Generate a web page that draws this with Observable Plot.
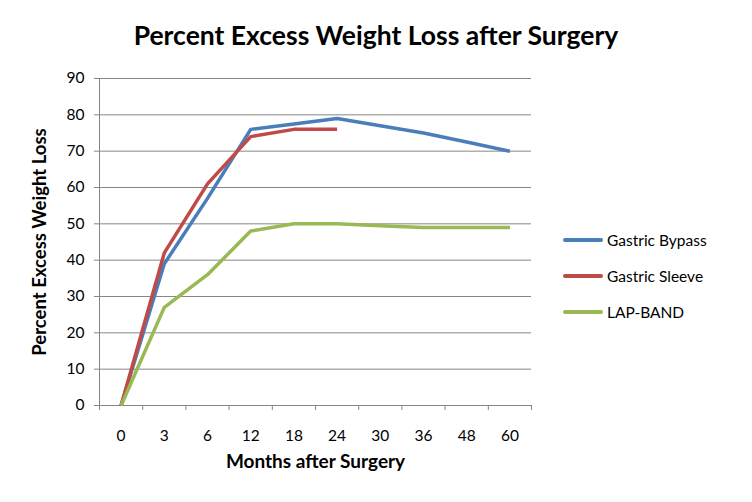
<!DOCTYPE html>
<html>
<head>
<meta charset="utf-8">
<script src="https://cdn.jsdelivr.net/npm/d3@7"></script>
<script src="https://cdn.jsdelivr.net/npm/@observablehq/plot@0.6"></script>
<style>
  body { margin: 0; background: #fff; }
  #wrap { position: relative; width: 752px; height: 502px; font-family: Lato, "Open Sans", sans-serif; }
  #title { position: absolute; left: 0; top: 19px; width: 752px; text-align: center; font-size: 26.5px; font-weight: bold; color: #000; }
  #legend { position: absolute; left: 563px; top: 222px; font-size: 15.5px; color: #000; }
  .row { display: flex; align-items: center; height: 36px; }
  .sw { width: 40px; height: 4px; margin-right: 4px; border-radius: 2px; }
  #chart { position: absolute; left: 0; top: 0; }
</style>
</head>
<body>
<div id="wrap">
  <div id="chart"></div>
  <div id="title">Percent Excess Weight Loss after Surgery</div>
  <div id="legend"></div>
</div>
<script>
const months = ["0", "3", "6", "12", "18", "24", "30", "36", "48", "60"];
const seriesNames = ["Gastric Bypass", "Gastric Sleeve", "LAP-BAND"];
const seriesColors = ["#4a7ebb", "#be4b48", "#98b954"];
const bypass = [0, 39, 57, 76, 77.5, 79, 77, 75, 72.5, 70];
const sleeve = [0, 42, 61, 74, 76, 76, null, null, null, null];
const lapband = [0, 27, 36, 48, 50, 50, 49.5, 49, 49, 49];
const yTicks = [0, 10, 20, 30, 40, 50, 60, 70, 80, 90];

const values = [bypass, sleeve, lapband];
const data = [];
values.forEach((arr, s) => arr.forEach((v, i) => {
  if (v != null) data.push({series: seriesNames[s], i, month: months[i], value: v});
}));
const idx = months.map((m, i) => i);
const bounds = [...idx.map(i => i - 0.5), months.length - 0.5];

const gray = "#868686";
const chart = Plot.plot({
  width: 752,
  height: 502,
  marginLeft: 99,
  marginRight: 221,
  marginTop: 78,
  marginBottom: 97,
  style: {fontFamily: "Lato, 'Open Sans', sans-serif", fontSize: "15px", color: "#000", background: "#fff"},
  x: {type: "linear", domain: [-0.5, months.length - 0.5]},
  y: {domain: [0, 90]},
  color: {domain: seriesNames, range: seriesColors},
  marks: [
    Plot.gridY(yTicks, {stroke: gray, strokeOpacity: 1, strokeWidth: 1}),
    Plot.ruleX([-0.5], {stroke: gray}),
    Plot.axisY(yTicks, {tickSize: 5, tickPadding: 10, stroke: gray, label: null, fill: "#000", fontSize: 15.5}),
    Plot.axisX(bounds, {tickSize: 5, tickFormat: () => "", stroke: gray, label: null}),
    Plot.ruleY([0], {stroke: gray}),
    Plot.axisX(idx, {tickSize: 0, tickPadding: 24, tickFormat: i => months[i], label: null, fill: "#000", fontSize: 15.5}),
    Plot.lineY(data, {x: "i", y: "value", z: "series", stroke: "series", strokeWidth: 3.5, strokeLinejoin: "round", strokeLinecap: "butt"}),
    Plot.text(["Percent Excess Weight Loss"], {frameAnchor: "left", textAnchor: "middle", dx: -59, rotate: -90, fontWeight: "bold", fontSize: 18.5, fill: "#000"}),
    Plot.text(["Months after Surgery"], {frameAnchor: "bottom", textAnchor: "middle", dy: 62, fontWeight: "bold", fontSize: 19, fill: "#000"})
  ]
});
document.getElementById("chart").appendChild(chart);

const legend = document.getElementById("legend");
seriesNames.forEach((n, k) => {
  const r = document.createElement("div");
  r.className = "row";
  r.innerHTML = `<div class="sw" style="background:${seriesColors[k]}"></div><span>${n}</span>`;
  legend.appendChild(r);
});
</script>
</body>
</html>
